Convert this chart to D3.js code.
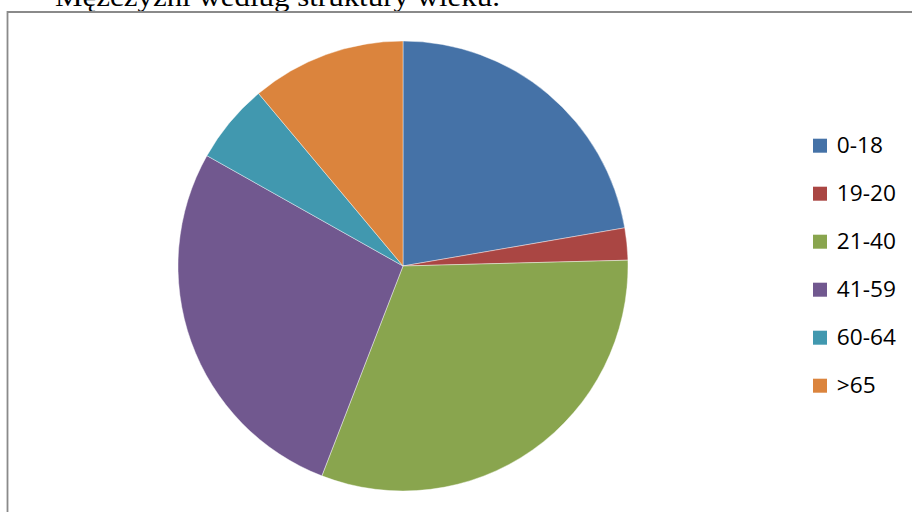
<!DOCTYPE html>
<html><head><meta charset="utf-8">
<script src="https://cdn.jsdelivr.net/npm/d3@7"></script>
<style>html,body{margin:0;padding:0;background:#fff;overflow:hidden}</style>
</head><body>
<svg id="c" width="912" height="512"></svg>
<script>
const title = "Mężczyźni według struktury wieku.";
const categories = ["0-18", "19-20", "21-40", "41-59", "60-64", ">65"];
const values = [22.3, 2.3, 31.3, 27.3, 5.75, 11.1];
const colors = ["#4572A7", "#AA4643", "#89A54E", "#71588F", "#4198AF", "#DB843D"];

const svg = d3.select("#c");

// title (partially cropped at top)
svg.append("text")
  .attr("x", 55).attr("y", 6)
  .attr("font-family", "Liberation Serif, Times New Roman, serif")
  .attr("font-size", 27)
  .attr("textLength", 445).attr("lengthAdjust", "spacingAndGlyphs")
  .attr("fill", "#000")
  .text(title);

// chart border
svg.append("path")
  .attr("d", "M7.5,520 L7.5,12 L920,12")
  .attr("fill", "none").attr("stroke", "#8a8a8a").attr("stroke-width", 1.8);

const cx = 403, cy = 266, r = 225;
const pie = d3.pie().sort(null).value(d => d)(values);
const arc = d3.arc().innerRadius(0).outerRadius(r);
const color = d3.scaleOrdinal().domain(categories).range(colors);

svg.append("g").attr("transform", `translate(${cx},${cy})`)
  .selectAll("path").data(pie).join("path")
  .attr("d", arc)
  .attr("fill", (d, i) => color(categories[i]))
  .attr("stroke", "#ffffff").attr("stroke-width", 0.6).attr("stroke-opacity", 0.7);

// legend
const ly = d3.scalePoint().domain(categories).range([152.7, 392.7]);
const lg = svg.append("g").selectAll("g").data(categories).join("g")
  .attr("transform", d => `translate(813,${ly(d)})`);
lg.append("rect").attr("x", 0).attr("y", -14).attr("width", 14).attr("height", 14)
  .attr("fill", d => color(d));
lg.append("text").attr("x", 22).attr("y", 0)
  .attr("font-family", "Open Sans, sans-serif").attr("font-size", 21)
  .attr("transform", "scale(1.08,1)")
  .attr("fill", "#000")
  .text(d => d);
</script>
</body></html>
